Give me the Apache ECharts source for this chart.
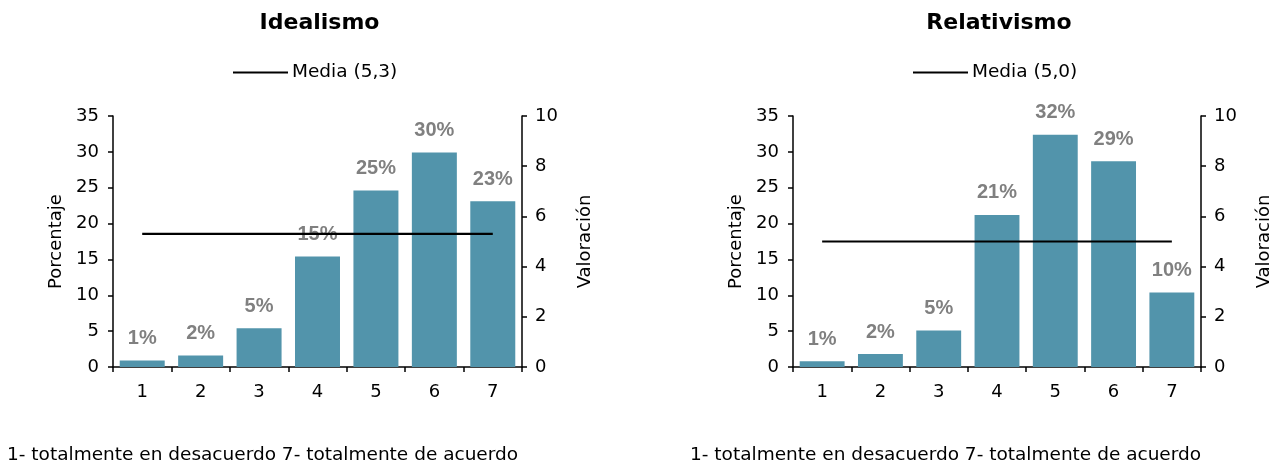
<!DOCTYPE html>
<html>
<head>
<meta charset="utf-8">
<script src="https://cdn.jsdelivr.net/npm/echarts@6/dist/echarts.min.js"></script>
<style>
  html, body { margin: 0; padding: 0; background: #fff; }
  #chart { width: 1287px; height: 464px; }
</style>
</head>
<body>
<div id="chart"></div>
<script>
// Escala de valoración 1..7
const categories = ['1', '2', '3', '4', '5', '6', '7'];

// Porcentaje de respuestas por valor de la escala
const idealismoPct = [0.9, 1.6, 5.4, 15.4, 24.6, 29.9, 23.1];
const relativismoPct = [0.8, 1.8, 5.1, 21.2, 32.4, 28.7, 10.4];

// Media de cada escala
const idealismoMedia = 5.3;
const relativismoMedia = 5.0;

const titles = ['Idealismo', 'Relativismo'];
const nota = '1- totalmente en desacuerdo 7- totalmente de acuerdo';

const FONT = "'DejaVu Sans', Verdana, sans-serif";
const BAR_COLOR = '#5294ab';
const LABEL_COLOR = '#808080';

const chart = echarts.init(document.getElementById('chart'));

const grids = [
  { left: 113, top: 116, width: 409, height: 251 },
  { left: 793, top: 116, width: 408, height: 251 }
];

function fmtMedia(v) {
  return 'Media (' + v.toFixed(1).replace('.', ',') + ')';
}

const medias = [idealismoMedia, relativismoMedia];
const pcts = [idealismoPct, relativismoPct];

const xAxes = [], yAxes = [], series = [], legends = [], titleOpts = [];

const axisLine = { show: true, lineStyle: { color: '#000', width: 1.5 } };
const axisTick = { show: true, length: 5, lineStyle: { color: '#000', width: 1.5 } };
const tickFont = { color: '#000', fontFamily: FONT, fontSize: 18 };

grids.forEach((g, i) => {
  const cx = g.left + g.width / 2;
  titleOpts.push({
    text: titles[i], left: cx - 3, top: 7, textAlign: 'center',
    textStyle: { fontFamily: FONT, fontSize: 22, fontWeight: 'bold', color: '#000' }
  });
  legends.push({
    data: [fmtMedia(medias[i])],
    left: g.left + 115, top: 58,
    icon: 'rect', itemWidth: 55, itemHeight: 2, itemGap: 5,
    textStyle: { fontFamily: FONT, fontSize: 18.5, color: '#000', padding: [0, 0, 0, -1] }
  });
  xAxes.push({
    type: 'category', gridIndex: i, data: categories,
    axisLine: axisLine, axisTick: axisTick,
    axisLabel: Object.assign({ margin: 16 }, tickFont)
  });
  yAxes.push({
    type: 'value', gridIndex: i, min: 0, max: 35, interval: 5, position: 'left',
    name: 'Porcentaje', nameLocation: 'middle', nameGap: 48,
    nameTextStyle: { color: '#000', fontFamily: FONT, fontSize: 18 },
    axisLine: axisLine, axisTick: axisTick,
    axisLabel: Object.assign({ margin: 14 }, tickFont),
    splitLine: { show: false }
  });
  yAxes.push({
    type: 'value', gridIndex: i, min: 0, max: 10, interval: 2, position: 'right',
    name: 'Valoración', nameLocation: 'middle', nameGap: 54,
    nameTextStyle: { color: '#000', fontFamily: FONT, fontSize: 18 },
    axisLine: axisLine, axisTick: axisTick,
    axisLabel: Object.assign({ margin: 13 }, tickFont),
    splitLine: { show: false }
  });
  series.push({
    name: 'Porcentaje ' + titles[i], type: 'bar',
    xAxisIndex: i, yAxisIndex: i * 2,
    data: pcts[i], barCategoryGap: '23%',
    itemStyle: { color: BAR_COLOR },
    label: {
      show: true, position: 'top', distance: 12,
      formatter: p => Math.round(p.value) + '%',
      color: LABEL_COLOR, fontWeight: 'bold', fontSize: 20,
      fontFamily: "'Liberation Sans Narrow', 'Liberation Sans', Arial, sans-serif"
    },
    z: 2
  });
  series.push({
    name: fmtMedia(medias[i]), type: 'line',
    xAxisIndex: i, yAxisIndex: i * 2 + 1,
    data: categories.map(() => medias[i]),
    symbol: 'none',
    lineStyle: { color: '#000', width: 2.2 },
    itemStyle: { color: '#000' },
    z: 3
  });
});

chart.setOption({
  animation: false,
  backgroundColor: '#fff',
  title: titleOpts.concat([
    { text: nota, left: 2, top: 441, textStyle: { fontFamily: FONT, fontSize: 18.5, fontWeight: 'normal', color: '#000' } },
    { text: nota, left: 685, top: 441, textStyle: { fontFamily: FONT, fontSize: 18.5, fontWeight: 'normal', color: '#000' } }
  ]),
  legend: legends,
  grid: grids,
  xAxis: xAxes,
  yAxis: yAxes,
  series: series
});
</script>
</body>
</html>
